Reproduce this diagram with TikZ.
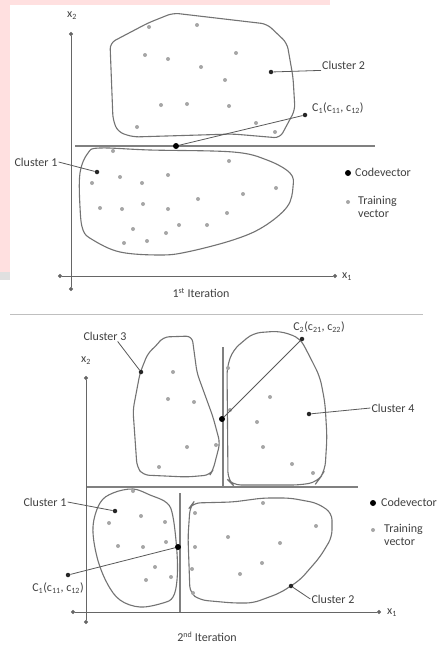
\documentclass[tikz,border=0pt]{standalone}
\usepackage{fontspec}
\setmainfont{Carlito}
\usetikzlibrary{arrows.meta}
\begin{document}
\begin{tikzpicture}[x=1pt,y=-1pt,
 tv/.style={circle,fill=black!35,inner sep=0pt,minimum size=4pt},
 cv/.style={circle,fill=black,inner sep=0pt,minimum size=6pt},
 pt/.style={circle,fill=black!85,inner sep=0pt,minimum size=4.5pt},
 lbl/.style={font=\fontsize{12}{13}\selectfont,text=black!75,inner sep=1pt},
 outl/.style={draw=black!55,line width=1.1pt},
 ax/.style={draw=black!60,line width=0.9pt,{Circle[length=4pt]}-{Circle[length=4pt]}},
 ptr/.style={draw=black!65,line width=0.8pt},
 split/.style={draw=black!50,line width=1.1pt}]
\useasboundingbox (0,0) rectangle (445,645);
\fill[white] (0,0) rectangle (445,645);
% watermark remnants
\fill[red!12] (0,0) rectangle (330,5);
\fill[red!12] (0,0) rectangle (10,272);
\fill[black!12] (0,272) rectangle (10,280);
\draw[black!25,line width=0.8pt] (10,314) -- (423,314);

% ================= 1st iteration =================
\coordinate (a1t) at (71,32);
\coordinate (a1b) at (71,291);
\coordinate (a1l) at (58,276);
\coordinate (a1r) at (337,276);
\draw[ax] (a1b) -- (a1t);
\draw[ax] (a1l) -- (a1r);
\node[lbl] (a1y) at (72,16) {x\textsubscript{2}};
\node[lbl,anchor=west] (a1x) at (341,277) {x\textsubscript{1}};

% cluster 2 outline
\draw[outl,rounded corners=6pt] (110,43) -- (148,23) -- (173,13) -- (267,24) -- (287,43) -- (293,77) -- (295,110) -- (288,123) -- (280,138) -- (233,134) -- (133,137) -- (118,132) -- (113,120) -- cycle;
% cluster 1 outline
\draw[outl] plot[smooth cycle,tension=0.6] coordinates {(100,148) (150,150) (233,152) (267,160) (290,173) (293,187) (287,207) (263,227) (233,240) (187,252) (160,255) (120,252) (93,240) (83,230) (80,207) (80,173) (88,153)};

% split line
\coordinate (s1l) at (75,146);
\coordinate (s1r) at (375,146);
\draw[split] (s1l) -- (s1r);

% training vectors
\foreach \p [count=\i] in {(149,27),(197,25),(145,55),(168,59),(201,67),(236,53),(225,80),(161,105),(187,104),(229,106),(137,127),(256,123),(275,132),
 (229,161),(92,183),(120,177),(142,183),(168,175),(276,188),(243,194),(198,199),(100,208),(122,209),(143,204),(168,209),(227,213),(133,229),(179,225),(207,225),(166,233),(147,241),(124,243),(113,151)}
  \node[tv] (ta\i) at \p {};

% codevector and labels
\node[cv] (cva) at (176,146) {};
\node[pt] (cvad) at (305,115) {};
\node[lbl,anchor=west] (cval) at (311,108) {C\textsubscript{1}(c\textsubscript{11}, c\textsubscript{12})};
\draw[ptr] (cva) -- (cvad);

\node[pt] (c2ad) at (271,72) {};
\node[lbl,anchor=west] (c2al) at (321,65) {Cluster 2};
\draw[ptr] (c2ad) -- (c2al.south west);

\node[pt] (c1ad) at (97,172) {};
\node[lbl] (c1al) at (36,162) {Cluster 1};
\draw[ptr] (c1al.east) -- (c1ad);

% legend
\node[cv] (lga1) at (348,173) {};
\node[lbl,anchor=west] (lga1t) at (354,172) {Codevector};
\node[tv] (lga2) at (348,202) {};
\node[lbl,anchor=west,align=left] (lga2t) at (357,207) {Training\\vector};

\node[lbl] (it1) at (201,293) {1\textsuperscript{st} Iteration};

% ================= 2nd iteration =================
\coordinate (a2t) at (86,376);
\coordinate (a2b) at (86,624);
\coordinate (a2l) at (71,612);
\coordinate (a2r) at (381,612);
\draw[ax] (a2b) -- (a2t);
\draw[ax] (a2l) -- (a2r);
\node[lbl] (a2y) at (86,361) {x\textsubscript{2}};
\node[lbl,anchor=west] (a2x) at (386,613) {x\textsubscript{1}};

% cluster outlines
\draw[outl,rounded corners=6pt] (148,353) -- (157,345) -- (163,337) -- (192,336) -- (197,373) -- (213,417) -- (220,443) -- (213,470) -- (210,475) -- (187,477) -- (143,475) -- (137,467) -- (133,410) -- (140,373) -- cycle;
\draw[outl,rounded corners=8pt] (227,367) -- (233,350) -- (253,333) -- (280,331) -- (300,338) -- (310,357) -- (320,377) -- (325,403) -- (327,437) -- (325,470) -- (320,478) -- (317,482) -- (300,485) -- (233,485) -- (228,480) -- cycle;
\draw[outl] plot[smooth cycle,tension=0.6] coordinates {(133,489) (150,495) (167,503) (173,517) (177,553) (177,580) (173,597) (163,603) (140,607) (120,600) (107,583) (97,557) (93,527) (100,503) (113,493)};
\draw[outl,rounded corners=7pt] (190,507) -- (193,503) -- (233,502) -- (263,498) -- (290,498) -- (317,503) -- (332,513) -- (332,537) -- (320,557) -- (300,580) -- (280,593) -- (253,603) -- (233,603) -- (200,600) -- (190,593) -- (188,537) -- cycle;

% split lines
\coordinate (s2l) at (87,487);
\coordinate (s2r) at (358,487);
\draw[split] (s2l) -- (s2r);
\coordinate (s3t) at (223,347);
\coordinate (s3b) at (223,488);
\draw[split] (s3t) -- (s3b);
\coordinate (s4t) at (180,493);
\coordinate (s4b) at (180,612);
\draw[split] (s4t) -- (s4b);

% training vectors
\foreach \p [count=\i] in {(173,372),(168,399),(194,402),(187,447),(216,445),(159,467),
 (228,368),(270,397),(257,422),(263,447),(292,464),(313,473),(230,410),
 (133,491),(109,523),(141,516),(165,522),(118,546),(143,547),(166,542),(155,567),(146,580),(171,577),
 (263,503),(195,513),(316,526),(228,537),(280,543),(195,547),(262,563),(192,569),(240,574),(193,593)}
  \node[tv] (tb\i) at \p {};

% codevectors and labels
\node[cv] (cvb) at (222,419) {};
\node[pt] (cvbd) at (302,339) {};
\node[lbl] (cvbl) at (319,327) {C\textsubscript{2}(c\textsubscript{21}, c\textsubscript{22})};
\draw[ptr] (cvb) -- (cvbd);

\node[cv] (cvc) at (178,547) {};
\node[pt] (cvcd) at (68,575) {};
\node[lbl] (cvcl) at (58,588) {C\textsubscript{1}(c\textsubscript{11}, c\textsubscript{12})};
\draw[ptr] (cvc) -- (cvcd);

\node[pt] (c3d) at (141,372) {};
\node[lbl] (c3l) at (105,336) {Cluster 3};
\draw[ptr] (c3l.south east) ++(-10,0) coordinate (c3p) (c3p) -- (c3d);

\node[pt] (c4d) at (309,414) {};
\node[lbl] (c4l) at (393,408) {Cluster 4};
\draw[ptr] (c4l.west) -- (c4d);

\node[pt] (c1bd) at (115,511) {};
\node[lbl] (c1bl) at (45,502) {Cluster 1};
\draw[ptr] (c1bl.east) -- (c1bd);

\node[pt] (c2bd) at (291,586) {};
\node[lbl] (c2bl) at (333,599) {Cluster 2};
\draw[ptr] (c2bl.west) -- (c2bd);

% legend
\node[cv] (lgb1) at (373,503) {};
\node[lbl,anchor=west] (lgb1t) at (380,502) {Codevector};
\node[tv] (lgb2) at (373,530) {};
\node[lbl,anchor=west,align=left] (lgb2t) at (383,535) {Training\\vector};

\node[lbl] (it2) at (207,637) {2\textsuperscript{nd} Iteration};
\end{tikzpicture}
\end{document}
